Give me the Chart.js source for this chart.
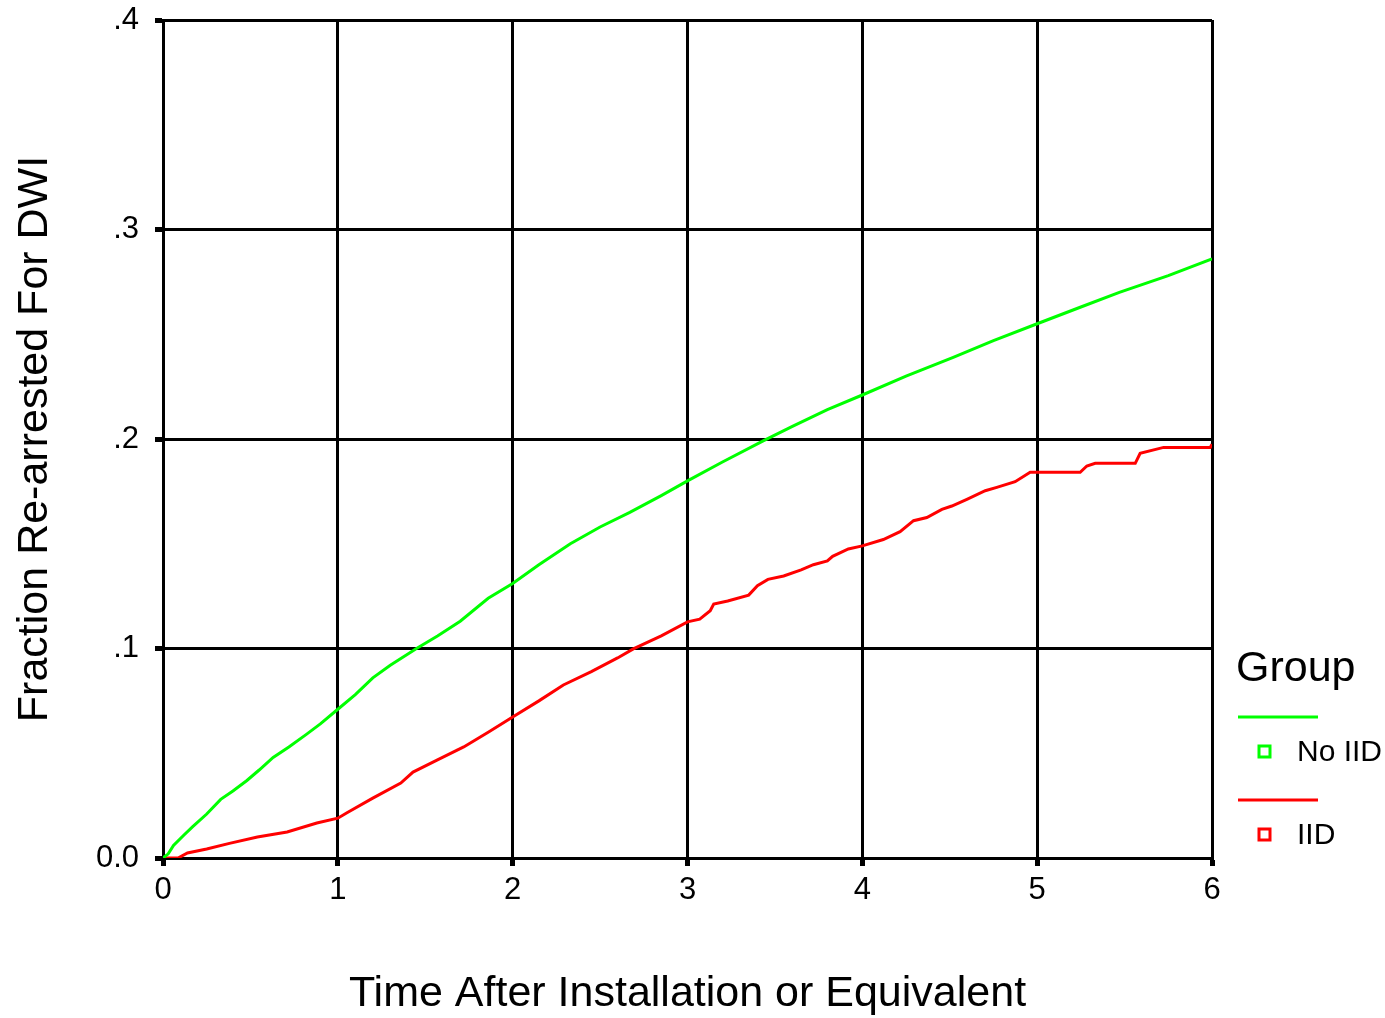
<!DOCTYPE html>
<html>
<head>
<meta charset="utf-8">
<script src="https://cdn.jsdelivr.net/npm/chart.js@4/dist/chart.umd.min.js"></script>
<style>
  html, body { margin: 0; padding: 0; background: #fff; }
  #wrap { width: 1385px; height: 1018px; }
</style>
</head>
<body>
<div id="wrap"><canvas id="km"></canvas></div>
<script>
// Cumulative fraction re-arrested (time in years)
const noIidTime = [0, 0.03, 0.06, 0.12, 0.17, 0.25, 0.33, 0.40, 0.48, 0.55, 0.63, 0.72, 0.82, 0.90, 1.0, 1.1, 1.2, 1.3, 1.45, 1.57, 1.7, 1.86, 2.0, 2.15, 2.33, 2.5, 2.67, 2.85, 3.0, 3.2, 3.43, 3.6, 3.8, 4.0, 4.25, 4.52, 4.75, 5.0, 5.25, 5.47, 5.75, 6.0];
const noIidFrac = [0, 0.002, 0.006, 0.011, 0.015, 0.021, 0.028, 0.032, 0.037, 0.042, 0.048, 0.053, 0.059, 0.064, 0.071, 0.078, 0.086, 0.092, 0.100, 0.106, 0.113, 0.124, 0.131, 0.140, 0.150, 0.158, 0.165, 0.173, 0.180, 0.189, 0.199, 0.206, 0.214, 0.221, 0.230, 0.239, 0.247, 0.255, 0.263, 0.270, 0.278, 0.286];

const iidTime = [0, 0.086, 0.14, 0.25, 0.38, 0.54, 0.71, 0.88, 1.0, 1.05, 1.2, 1.36, 1.43, 1.57, 1.72, 1.86, 2.0, 2.15, 2.29, 2.45, 2.6, 2.69, 2.85, 3.0, 3.07, 3.13, 3.15, 3.23, 3.35, 3.40, 3.46, 3.55, 3.65, 3.72, 3.80, 3.83, 3.92, 4.0, 4.12, 4.216, 4.293, 4.369, 4.455, 4.512, 4.598, 4.703, 4.769, 4.874, 4.96, 5.246, 5.284, 5.332, 5.561, 5.589, 5.723, 5.99, 6.0];
const iidFrac = [0, 0, 0.0024, 0.0043, 0.007, 0.010, 0.0124, 0.0167, 0.019, 0.0215, 0.0286, 0.0358, 0.041, 0.0468, 0.053, 0.060, 0.0673, 0.075, 0.0826, 0.089, 0.0955, 0.0998, 0.106, 0.1127, 0.114, 0.118, 0.1212, 0.1227, 0.1255, 0.130, 0.133, 0.1346, 0.1375, 0.140, 0.1418, 0.144, 0.1475, 0.149, 0.152, 0.1558, 0.161, 0.1625, 0.1664, 0.168, 0.1712, 0.1753, 0.1769, 0.1796, 0.1841, 0.1841, 0.1871, 0.1884, 0.1884, 0.1932, 0.196, 0.196, 0.1975];

const groupNames = ['No IID', 'IID'];
const groupColors = ['#00ff00', '#ff0000'];
const yTickLabels = ['0.0', '.1', '.2', '.3', '.4'];
const xTicks = [0, 1, 2, 3, 4, 5, 6];

const FONT = '"Liberation Sans", Arial, sans-serif';
const toPoints = (xs, ys) => xs.map((x, i) => ({ x: x, y: ys[i] }));

// Legend drawn by hand: "Group" heading, then line + small square per group
const groupLegend = {
  id: 'groupLegend',
  afterDraw(chart) {
    const ctx = chart.ctx;
    const left = chart.chartArea.right + 26;
    ctx.save();
    ctx.fillStyle = '#000';
    ctx.textBaseline = 'middle';
    ctx.font = '43px ' + FONT;
    ctx.fillText('Group', left - 2, 669);
    ctx.font = '30px ' + FONT;
    groupNames.forEach((name, i) => {
      const y0 = 717 + i * 83;
      ctx.strokeStyle = groupColors[i];
      ctx.lineWidth = 3;
      ctx.beginPath();
      ctx.moveTo(left, y0);
      ctx.lineTo(left + 80, y0);
      ctx.stroke();
      ctx.strokeRect(left + 21, y0 + 29, 11, 11);
      ctx.fillText(name, left + 59, y0 + 36);
    });
    ctx.restore();
  }
};

new Chart(document.getElementById('km'), {
  type: 'line',
  data: {
    datasets: [{
      label: groupNames[0],
      data: toPoints(noIidTime, noIidFrac),
      borderColor: groupColors[0],
      borderWidth: 3,
      pointRadius: 0,
      tension: 0,
      fill: false,
    }, {
      label: groupNames[1],
      data: toPoints(iidTime, iidFrac),
      borderColor: groupColors[1],
      borderWidth: 3,
      pointRadius: 0,
      tension: 0,
      fill: false,
    }],
  },
  options: {
    responsive: true,
    maintainAspectRatio: false,
    animation: false,
    layout: { padding: { top: 20, right: 173, bottom: 0, left: 0 } },
    plugins: {
      legend: { display: false },
      tooltip: { enabled: false },
    },
    scales: {
      x: {
        type: 'linear',
        min: 0,
        max: 6,
        afterBuildTicks: (s) => { s.ticks = xTicks.map((v) => ({ value: v })); },
        afterFit: (s) => { s.height = 160; s.paddingRight = 0; s.paddingLeft = 0; },
        grid: { color: '#000', lineWidth: 3, tickLength: 8, tickWidth: 5, tickColor: '#000' },
        border: { color: '#000', width: 3 },
        ticks: {
          color: '#000',
          padding: 6,
          maxRotation: 0,
          font: { family: FONT, size: 31 },
        },
        title: {
          display: true,
          text: 'Time After Installation or Equivalent',
          color: '#000',
          padding: { top: 40, bottom: -2 },
          font: { family: FONT, size: 43 },
        },
      },
      y: {
        min: 0,
        max: 0.4,
        afterBuildTicks: (s) => { s.ticks = yTickLabels.map((t, i) => ({ value: i / 10 })); },
        afterFit: (s) => { s.width = 163; s.paddingTop = 0; s.paddingBottom = 0; },
        grid: { color: '#000', lineWidth: 3, tickLength: 8, tickWidth: 5, tickColor: '#000' },
        border: { color: '#000', width: 3 },
        ticks: {
          color: '#000',
          padding: 16,
          callback: (v, i) => yTickLabels[i],
          font: { family: FONT, size: 31 },
        },
        title: {
          display: true,
          text: 'Fraction Re-arrested For DWI',
          color: '#000',
          padding: { top: 9, bottom: 30 },
          font: { family: FONT, size: 43 },
        },
      },
    },
  },
  plugins: [groupLegend],
});
</script>
</body>
</html>
